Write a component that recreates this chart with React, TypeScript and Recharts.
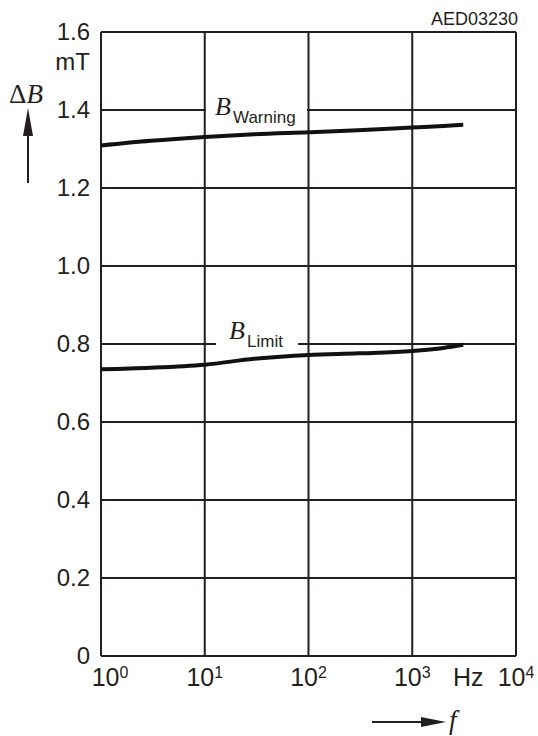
import { LineChart, Line, XAxis, YAxis, CartesianGrid } from "recharts";

const frequencies = [1, 3, 10, 30, 100, 300, 1000, 2000, 3100];
const warningValues = [1.309, 1.321, 1.331, 1.338, 1.343, 1.348, 1.355, 1.359, 1.362];
const limitValues = [0.735, 0.739, 0.747, 0.762, 0.772, 0.776, 0.782, 0.79, 0.798];

const xTicks = [1, 10, 100, 1000, 10000];
const xTickExponents = ["0", "1", "2", "3", "4"];
const yTicks = [0, 0.2, 0.4, 0.6, 0.8, 1.0, 1.2, 1.4, 1.6];
const yTickLabels = ["0", "0.2", "0.4", "0.6", "0.8", "1.0", "1.2", "1.4", "1.6"];

const data = frequencies.map((f, i) => ({
  f,
  warning: warningValues[i],
  limit: limitValues[i],
}));

const INK = "#231f20";
const SANS = "'Liberation Sans', Arial, sans-serif";
const SERIF = "'Liberation Serif', 'Times New Roman', serif";

function XTick(props: any) {
  const { x, y, payload, index } = props;
  const i = xTicks.indexOf(payload.value);
  const shift = index === 0 ? 9 : 0;
  return (
    <text
      x={x + shift}
      y={y + 30}
      textAnchor="middle"
      fontFamily={SANS}
      fontSize={25}
      fill={INK}
    >
      10
      <tspan fontSize={16} dy={-8}>
        {xTickExponents[i]}
      </tspan>
    </text>
  );
}

function YTick(props: any) {
  const { x, y, payload } = props;
  const i = yTicks.indexOf(payload.value);
  return (
    <text
      x={x}
      y={y + 8}
      textAnchor="end"
      fontFamily={SANS}
      fontSize={24}
      fill={INK}
    >
      {yTickLabels[i]}
    </text>
  );
}

export default function App() {
  return (
    <div
      style={{
        position: "absolute",
        left: 0,
        top: 0,
        width: 538,
        height: 736,
        background: "#fff",
      }}
    >
      <LineChart
        width={538}
        height={736}
        data={data}
        margin={{ top: 32, right: 22, bottom: 0, left: 0 }}
      >
        <CartesianGrid stroke={INK} strokeWidth={2} />
        <XAxis
          dataKey="f"
          type="number"
          scale="log"
          domain={[1, 10000]}
          ticks={xTicks}
          allowDataOverflow
          height={80}
          axisLine={false}
          tickLine={false}
          tickSize={0}
          tickMargin={0}
          tick={<XTick />}
          interval={0}
        />
        <YAxis
          type="number"
          domain={[0, 1.6]}
          ticks={yTicks}
          width={101}
          axisLine={false}
          tickLine={false}
          tickSize={0}
          tickMargin={11}
          tick={<YTick />}
          interval={0}
        />
        <Line
          dataKey="warning"
          type="monotone"
          stroke="#111"
          strokeWidth={4}
          dot={false}
          isAnimationActive={false}
        />
        <Line
          dataKey="limit"
          type="monotone"
          stroke="#111"
          strokeWidth={4}
          dot={false}
          isAnimationActive={false}
        />
      </LineChart>

      {/* annotations */}
      <svg
        width={538}
        height={736}
        style={{ position: "absolute", left: 0, top: 0, pointerEvents: "none" }}
      >
        <rect x={206} y={105} width={101} height={10} fill="#fff" />
        <rect x={216} y={339} width={82} height={10} fill="#fff" />

        <text x={215} y={115} fontFamily={SERIF} fontStyle="italic" fontSize={26} fill={INK}>
          B
        </text>
        <text x={233} y={123} fontFamily={SANS} fontSize={17} fill={INK}>
          Warning
        </text>
        <text x={229} y={339} fontFamily={SERIF} fontStyle="italic" fontSize={26} fill={INK}>
          B
        </text>
        <text x={247} y={347} fontFamily={SANS} fontSize={17} fill={INK}>
          Limit
        </text>

        <text x={518} y={25} textAnchor="end" fontFamily={SANS} fontSize={18} fill={INK}>
          AED03230
        </text>
        <text x={90} y={70} textAnchor="end" fontFamily={SANS} fontSize={24} fill={INK}>
          mT
        </text>
        <text x={453} y={686} fontFamily={SANS} fontSize={25} fill={INK}>
          Hz
        </text>

        <text x={9} y={103} fontFamily={SERIF} fontSize={27} fill={INK}>
          Δ<tspan fontStyle="italic">B</tspan>
        </text>
        <line x1={28} y1={183} x2={28} y2={130} stroke={INK} strokeWidth={2} />
        <polygon points="23,136 28,108 33,136" fill={INK} />

        <line x1={372} y1={722} x2={425} y2={722} stroke={INK} strokeWidth={2} />
        <polygon points="421,717 446,722 421,727" fill={INK} />
        <text x={449} y={729} fontFamily={SERIF} fontStyle="italic" fontSize={27} fill={INK}>
          f
        </text>
      </svg>
    </div>
  );
}
